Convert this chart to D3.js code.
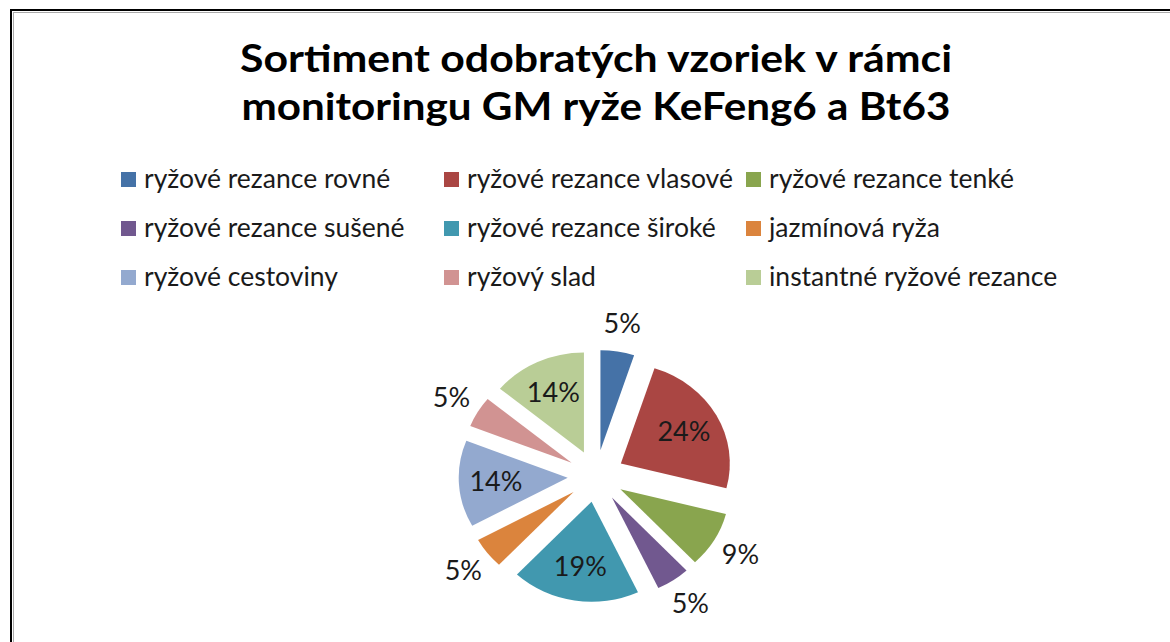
<!DOCTYPE html>
<meta charset="utf-8">
<style>
body { margin: 0; background: #fff; }
svg { display: block; }
text { font-family: Lato, "Open Sans", sans-serif; fill: #1a1a1a; }
.title { font-weight: bold; font-size: 38px; fill: #000; }
.legend text { font-size: 26.5px; }
.lbl { font-size: 27px; }
</style>
<svg width="1170" height="642" id="svg"></svg>
<script src="https://cdnjs.cloudflare.com/ajax/libs/d3/7.8.5/d3.min.js"></script>
<script>

var titleLines = ["Sortiment odobratých vzoriek v rámci", "monitoringu GM ryže KeFeng6 a Bt63"];

var categories = [
  "ryžové rezance rovné", "ryžové rezance vlasové", "ryžové rezance tenké",
  "ryžové rezance sušené", "ryžové rezance široké", "jazmínová ryža",
  "ryžové cestoviny", "ryžový slad", "instantné ryžové rezance"
];
var values = [5, 24, 9, 5, 19, 5, 14, 5, 14];
var colors = ["#4572A7", "#AA4643", "#89A54E", "#71588F", "#4198AF",
              "#DB843D", "#93A9CF", "#D19392", "#B9CD96"];

var svg = d3.select("svg"),
    width = +svg.attr("width"),
    height = +svg.attr("height");

// chart frame (only top/left edges are visible in the crop)
svg.append("rect")
    .attr("x", 11).attr("y", 10)
    .attr("width", width + 20).attr("height", height + 20)
    .attr("fill", "none").attr("stroke", "#000").attr("stroke-width", 2);
svg.append("rect")
    .attr("x", 13.5).attr("y", 12.5)
    .attr("width", width + 20).attr("height", height + 20)
    .attr("fill", "none").attr("stroke", "#aaa").attr("stroke-width", 1);

// title
svg.selectAll("text.title")
  .data(titleLines)
  .enter().append("text")
    .attr("class", "title")
    .attr("x", 596)
    .attr("y", function(d, i) { return 72 + i * 48; })
    .attr("text-anchor", "middle")
    .attr("textLength", function(d, i) { return i == 0 ? 712 : 709; })
    .attr("lengthAdjust", "spacingAndGlyphs")
    .text(function(d) { return d; });

// legend, 3 columns
var colX = [121, 444, 746];
var legend = svg.append("g").attr("class", "legend")
  .selectAll("g")
  .data(categories)
  .enter().append("g")
    .attr("transform", function(d, i) {
      return "translate(" + colX[i % 3] + "," + (172 + Math.floor(i / 3) * 49) + ")";
    });
legend.append("rect")
    .attr("width", 15).attr("height", 15)
    .attr("fill", function(d, i) { return colors[i]; });
legend.append("text")
    .attr("x", 23).attr("y", 16)
    .text(function(d) { return d; });

// exploded pie
var cx = 596, cy = 476, r = 100, explode = 26, sx = 1.09;
var total = d3.sum(values);

var pie = d3.pie().sort(null).value(function(d) { return d; });
var arc = d3.arc().innerRadius(0).outerRadius(r);
var arcs = pie(values);

function mid(d) { return (d.startAngle + d.endAngle) / 2; }
function pt(a, dist) {
  return [cx + sx * dist * Math.sin(a), cy - dist * Math.cos(a)];
}

svg.append("g")
  .selectAll("path")
  .data(arcs)
  .enter().append("path")
    .attr("d", arc)
    .attr("fill", function(d, i) { return colors[i]; })
    .attr("transform", function(d) {
      var p = pt(mid(d), explode);
      return "translate(" + p[0] + "," + p[1] + ") scale(" + sx + ",1)";
    });

svg.append("g")
  .selectAll("text")
  .data(arcs)
  .enter().append("text")
    .attr("class", "lbl")
    .attr("text-anchor", "middle")
    .attr("dy", "0.35em")
    .attr("transform", function(d) {
      var inside = d.value / total >= 0.1;
      var p = pt(mid(d), explode + (inside ? 0.66 : 1.28) * r);
      return "translate(" + p[0] + "," + p[1] + ")";
    })
    .text(function(d) { return Math.round(d.value / total * 100) + "%"; });

</script>
